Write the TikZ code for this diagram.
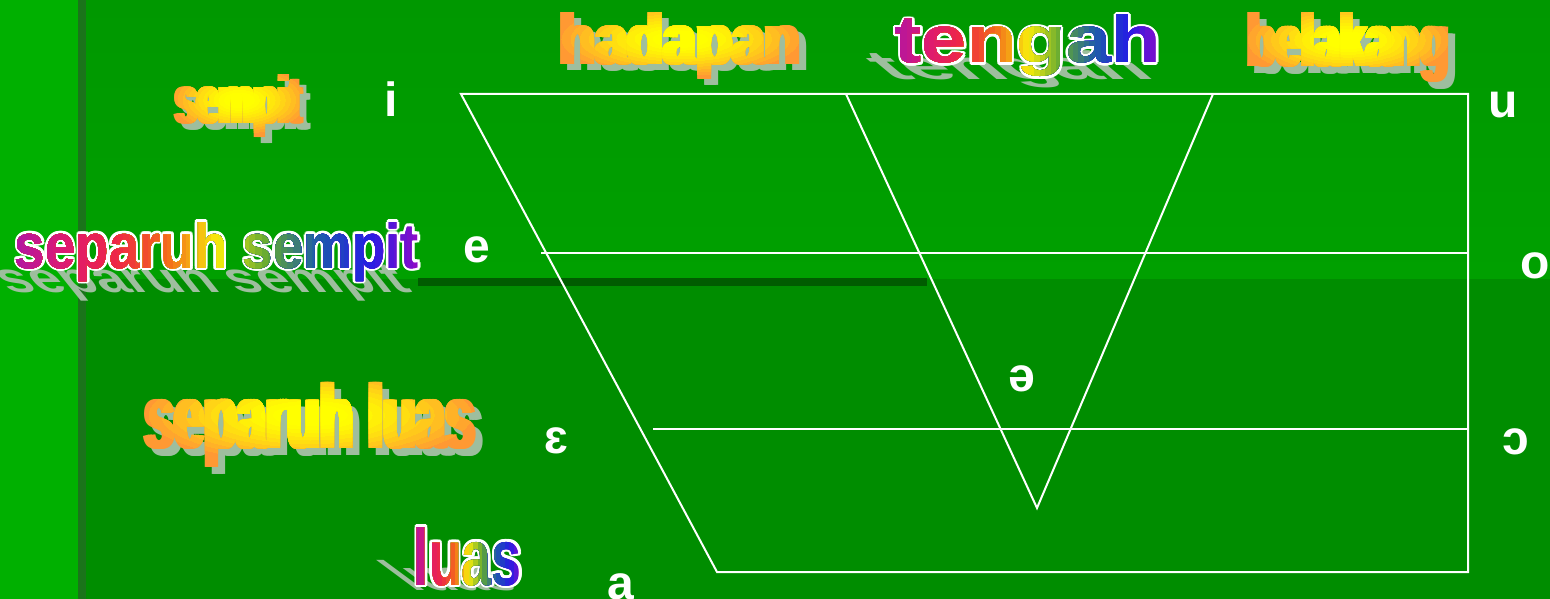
\documentclass[tikz,border=0pt]{standalone}
\usepackage{fontspec}
\setmainfont{Liberation Sans}
\newfontfamily\wfont{Liberation Sans}

\definecolor{bgtop}{RGB}{0,152,0}
\definecolor{bgband}{RGB}{0,160,0}
\definecolor{bgbot}{RGB}{0,141,0}
\definecolor{bgleft}{RGB}{0,176,0}
\definecolor{vline}{RGB}{26,116,26}
\definecolor{hbar}{RGB}{0,92,0}
\definecolor{shad}{RGB}{158,190,158}
\definecolor{wyel}{RGB}{255,255,0}
\definecolor{wor}{RGB}{255,153,51}
\definecolor{rb1}{RGB}{178,22,162}
\definecolor{rb2}{RGB}{222,26,112}
\definecolor{rb3}{RGB}{238,40,70}
\definecolor{rb4}{RGB}{243,105,28}
\definecolor{rb5}{RGB}{248,236,12}
\definecolor{rb6}{RGB}{96,168,52}
\definecolor{rb7}{RGB}{30,92,170}
\definecolor{rb8}{RGB}{36,30,228}
\definecolor{rb9}{RGB}{140,12,200}

\newcommand\bolded[1]{\makebox[0pt]{\hspace{-6pt}#1}\makebox[0pt]{\hspace{-3pt}#1}\makebox[0pt]{#1}\makebox[0pt]{\hspace{3pt}#1}\makebox[0pt]{\hspace{6pt}#1}}

\newcommand\SEMPIT{\resizebox{126pt}{49pt}{\wfont\bfseries sempit}}
\newcommand\HADAPAN{\resizebox{241pt}{52pt}{\wfont\bfseries hadapan}}
\newcommand\BELAKANG{\resizebox{201pt}{54pt}{\wfont\bfseries belakang}}
\newcommand\SLUAS{\resizebox{331pt}{66pt}{\wfont\bfseries separuh luas}}
\newcommand\TENGAH{\resizebox{266pt}{48pt}{\wfont\bfseries tengah}}
\newcommand\SSEMPIT{\resizebox{404pt}{46pt}{\wfont\bfseries separuh sempit}}
\newcommand\LUAS{\resizebox{108pt}{58pt}{\wfont\bfseries luas}}

\tikzset{
  wline/.style={white, line width=2pt},
  lbl/.style={font=\bfseries\fontsize{48}{50}\selectfont, text=white, anchor=base, inner sep=0pt},
  wtxt/.style={anchor=base, inner sep=0pt},
  wshad/.style={anchor=base, inner sep=0pt, text=shad},
  wout/.style={anchor=base, inner sep=0pt, text=white},
}

% orange/yellow elliptic gradient word: #1 content, #2 xc, #3 baseline, #4 yc, #5 a, #6 b
\newcommand\orangeword[6]{%
  \node[wtxt, text=wor] at (#2,#3) {\bolded{#1}};
  \foreach \i in {1,...,13}{%
    \pgfmathsetmacro\rr{1-\i/14}%
    \pgfmathsetmacro\mm{100*(max(0,(\rr-0.22)/0.78))^1.4}%
    \begin{scope}
      \clip (#2,#4) ellipse [x radius=#5*\rr, y radius=#6*\rr];
      \node[wtxt, text=wor!\mm!wyel] at (#2,#3) {\bolded{#1}};
    \end{scope}}}

% rainbow word: #1 content, #2 xc, #3 baseline, #4 W, #5 H, #6 strips
\newcommand\rainbowword[6]{%
  \foreach \a in {0,30,...,330}{\path (#2,#3) ++(\a:2.6) node[wout]{#1};}
  \node[wtxt, text=rb9] at (#2,#3) {#1};
  \pgfmathtruncatemacro\nn{#6-1}%
  \foreach \i in {\nn,...,1}{%
    \pgfmathsetmacro\ff{(\i-0.5)/#6}%
    \pgfmathtruncatemacro\kA{floor(\ff*8)+1}%
    \pgfmathtruncatemacro\kB{\kA+1}%
    \pgfmathsetmacro\pp{100*(\kA-\ff*8)}%
    \pgfmathsetmacro\xr{#2-#4/2+#4*(\i/#6)}%
    \begin{scope}
      \clip (#2-#4/2-8,#3-#5-20) rectangle (\xr,#3+30);
      \node[wtxt, text=rb\kA!\pp!rb\kB] at (#2,#3) {#1};
    \end{scope}}}

\begin{document}
\begin{tikzpicture}[x=1pt,y=-1pt]
\useasboundingbox (0,0) rectangle (1550,599);
% background
\fill[bgleft] (0,0) rectangle (80,599);
\shade[top color=bgtop, bottom color=bgband] (80,0) rectangle (1550,279);
\fill[bgbot] (80,279) rectangle (1550,599);
\fill[vline] (78,0) rectangle (86,599);
\fill[hbar] (418,278) rectangle (927,286);

% ---- orange gradient words (shadow + fill)
\node[wshad] (sh1) at (246,130) {\bolded{\SEMPIT}};
\orangeword{\SEMPIT}{239}{124}{100}{72}{36}
\node[wshad] (sh2) at (687,71) {\bolded{\HADAPAN}};
\orangeword{\HADAPAN}{680}{65}{39}{128}{39}
\node[wshad] (sh3) at (1355,74) {\bolded{\BELAKANG}};
\orangeword{\BELAKANG}{1348}{67}{40}{108}{40}
\node[wshad] (sh4) at (317,455) {\bolded{\SLUAS}};
\orangeword{\SLUAS}{310}{448}{415}{174}{50}

% ---- rainbow words (laid shadow, white outline, fill)
\begin{scope}[shift={(1024,80)}, xslant=-1.2, yscale=0.6]
  \node[wshad, transform shape] (sh5) at (0,0) {\TENGAH};
\end{scope}
\rainbowword{\TENGAH}{1028}{63}{266}{48}{48}

\begin{scope}[shift={(212,292)}, xslant=-0.8, yscale=0.66]
  \node[wshad, transform shape] (sh6) at (0,0) {\SSEMPIT};
\end{scope}
\rainbowword{\SSEMPIT}{217}{268}{404}{46}{64}

\begin{scope}[shift={(468,590)}, xslant=-1.35, yscale=0.52]
  \node[wshad, transform shape] (sh7) at (0,0) {\LUAS};
\end{scope}
\rainbowword{\LUAS}{468}{585}{108}{58}{24}

% ---- vowel chart lines
\coordinate (TL) at (461,94);
\coordinate (TR) at (1468,94);
\coordinate (BR) at (1468,572);
\coordinate (BL) at (717,572);
\coordinate (EL) at (541,253);
\coordinate (ER) at (1468,253);
\coordinate (OL) at (653,429);
\coordinate (OR) at (1468,429);
\coordinate (T1) at (846,94);
\coordinate (T2) at (1213,94);
\coordinate (TA) at (1037,508);
\draw[wline] (TL) -- (TR) -- (BR) -- (BL) -- cycle;
\draw[wline] (EL) -- (ER);
\draw[wline] (OL) -- (OR);
\draw[wline, line join=miter] (T1) -- (TA) -- (T2);

% ---- vowel labels
\node[lbl] (vi) at (391,117) {i};
\node[lbl] (vu) at (1503,118) {u};
\node[lbl] (ve) at (477,262) {e};
\node[lbl] (vo) at (1535,278) {o};
\node[lbl] (vschwa) at (1022,391) {ə};
\node[lbl] (veps) at (556,453) {ɛ};
\node[lbl] (vopen) at (1516,454) {ɔ};
\node[lbl] (va) at (621,599) {a};
\end{tikzpicture}
\end{document}
